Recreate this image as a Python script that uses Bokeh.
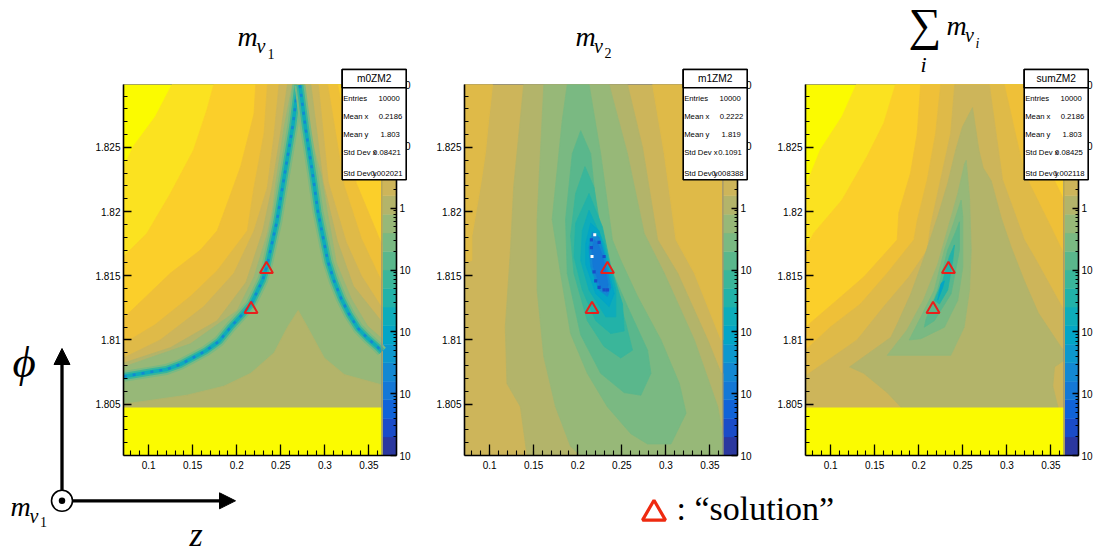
import math
from bokeh.plotting import figure
from bokeh.layouts import row, column
from bokeh.models import Range1d, LinearAxis, FixedTicker
from bokeh.embed import file_html
from bokeh.resources import INLINE
from bokeh.core.properties import value

# --- axes -----------------------------------------------------------------
Z_MIN, Z_MAX, PHI_MIN, PHI_MAX = 0.0715, 0.3647, 1.8010, 1.8299
Z_TICKS = [0.1, 0.15, 0.2, 0.25, 0.3, 0.35]
Z_LABELS = ["0.1", "0.15", "0.2", "0.25", "0.3", "0.35"]
Z_MINOR = [round(0.08 + 0.01 * i, 2) for i in range(29)]
PHI_TICKS = [1.805, 1.81, 1.815, 1.82, 1.825]
PHI_LABELS = ["1.805", "1.81", "1.815", "1.82", "1.825"]
PHI_MINOR = [round(1.802 + 0.001 * i, 3) for i in range(28)]
CB_DECADES = [-4, -3, -2, -1, 0, 1, 2]
CB_LABELS = ["10", "10", "10", "10", "1", "10", "10"]
EMPTY_BELOW = 1.80474

# contour palette, level 0 (lowest) to 19 (highest)
LEVELS = ["#2b389f", "#1a4cc8", "#1063d8", "#1478d6", "#1388d2", "#0c98cd", "#03a5c6",
          "#0eacba", "#22b2a8", "#3ab69a", "#5ab78c", "#7ab982", "#97b878", "#b3b46a",
          "#cdb55a", "#dfba48", "#efc038", "#fbcf2a", "#fbe220", "#fbfb00"]

SOLUTION_Z = [0.2162, 0.2337]
SOLUTION_PHI = [1.8124, 1.8155]

# --- m_nu1: (level, z, phi) regions; left edge first from top to left side, then right side
M0_BANDS = [
    (18, [.1266, .1076, .0829, .0715], [1.8299, 1.8274, 1.8251, 1.8235], [.3647], [1.8299]),
    (17, [.174, .166, .151, .1247, .098, .0715], [1.8299, 1.8279, 1.8248, 1.8214, 1.8183, 1.8165], [.3647], [1.8299]),
    (16, [.2215, .2196, .2044, .1854, .1778, .1588, .1247, .0715], [1.8299, 1.8276, 1.8235, 1.8199, 1.8185, 1.817, 1.8152, 1.8117],
         [.3145, .3357, .3642, .3647], [1.8299, 1.8222, 1.8175, 1.8173]),
    (15, [.2348, .231, .2196, .212, .1778, .1475, .1076, .0715], [1.8299, 1.8261, 1.8219, 1.8185, 1.8154, 1.8134, 1.8112, 1.8097],
         [.3031, .322, .3414, .3647], [1.8299, 1.822, 1.8179, 1.8145]),
    (14, [.248, .2424, .2348, .2196, .1968, .1626, .1133, .0715], [1.8299, 1.826, 1.8219, 1.8185, 1.8152, 1.8126, 1.81, 1.8086],
         [.2925, .3038, .3243, .3414, .3647], [1.8299, 1.8223, 1.8176, 1.815, 1.8125]),
    (13, [.2575, .25, .24, .2296, .2106, .1778, .1247, .0715], [1.8299, 1.8262, 1.8219, 1.8185, 1.8145, 1.8115, 1.8094, 1.8082],
         [.2841, .298, .3141, .3323, .3647], [1.8299, 1.8223, 1.8177, 1.8142, 1.8114]),
    (12, [.2633, .2538, .25, .2443, .2405, .2348, .2196, .2006, .1474, .0715],
         [1.8299, 1.8266, 1.8248, 1.8222, 1.8201, 1.8183, 1.8149, 1.8123, 1.8097, 1.8079],
         [.2765, .2822, .2959, .3027, .313, .33, .3483, .3647], [1.8299, 1.8263, 1.8228, 1.82, 1.816, 1.8132, 1.8111, 1.8101]),
]
M0_HILL_Z = [.0715, .1436, .1854, .2158, .2424, .2576, .2697, .2803, .2993, .3221, .3647]
M0_HILL_PHI = [1.805, 1.8057, 1.8064, 1.8074, 1.809, 1.811, 1.8123, 1.811, 1.8086, 1.8073, 1.8065]
M0_LEFT_Z = [.0718, .1019, .12, .1361, .1646, .18, .1931, .205, .2158, .2295, .2344, .2454, .2541, .2637, .2694]
M0_LEFT_PHI = [1.80716, 1.8075, 1.8077, 1.8081, 1.80914, 1.8099, 1.81101, 1.8119, 1.81273, 1.81467, 1.8158, 1.8192, 1.8228, 1.82674, 1.82986]
M0_RIGHT_Z = [.2716, .2784, .2864, .2921, .3035, .3105, .3187, .3275, .3377, .349, .3605, .3647]
M0_RIGHT_PHI = [1.82986, 1.82636, 1.8228, 1.82, 1.8161, 1.8146, 1.8132, 1.812, 1.8109, 1.8101, 1.8094, 1.8091]

# --- m_nu2: closed regions (level, z, phi)
M1_BASE = 14
M1_BANDS = [
    (15, [.1034, .0989, .0951, .0894, .0799, .0799, .0723, .0715, .0715],
         [1.8299, 1.8271, 1.8245, 1.8219, 1.8181, 1.8162, 1.816, 1.816, 1.8299]),
    (15, [.2849, .2982, .3115, .3324, .3627, .3647, .3647], [1.8299, 1.8245, 1.8178, 1.8152, 1.81, 1.81, 1.8299]),
    (13, [.1387, .1273, .1235, .1178, .1197, .1349, .1425, .3647, .3647, .3627, .3475, .3134, .2906, .2735, .2564],
         [1.8299, 1.8219, 1.8168, 1.811, 1.8066, 1.8048, 1.801, 1.801, 1.8074, 1.8074, 1.81, 1.8152, 1.8178, 1.825, 1.8299]),
    (12, [.1615, .1539, .1539, .1615, .1748, .1919, .2033, .3647, .3647, .3589, .3323, .2982, .2754, .2564, .2355],
         [1.8299, 1.8194, 1.8139, 1.8087, 1.8048, 1.8017, 1.801, 1.801, 1.8025, 1.8048, 1.81, 1.8152, 1.8183, 1.8245, 1.8299]),
    (11, [.1881, .1824, .171, .1805, .1919, .2109, .2336, .2602, .2792, .3058, .3229, .3153, .2944, .2678, .2488, .2393, .226, .2128],
         [1.8299, 1.8271, 1.8194, 1.8152, 1.8105, 1.8074, 1.8048, 1.8027, 1.8019, 1.8019, 1.8043, 1.8066, 1.81, 1.8134, 1.8162, 1.8178, 1.8245, 1.8299]),
    (10, [.2033, .1938, .1862, .1881, .2033, .226, .2526, .2716, .283, .2792, .2564, .2336, .2222, .2147],
         [1.8263, 1.8245, 1.8194, 1.8152, 1.8104, 1.8074, 1.8059, 1.8057, 1.8074, 1.8092, 1.8126, 1.8162, 1.8194, 1.8245]),
    (9, [.2082, .1976, .1919, .1957, .2109, .2298, .2488, .2621, .2545, .2374, .2241, .2184],
        [1.8235, 1.8214, 1.8181, 1.8152, 1.8115, 1.8095, 1.8086, 1.8092, 1.8113, 1.8154, 1.8194, 1.8219]),
    (8, [.2128, .1976, .1957, .2052, .2204, .2375, .2527, .2508, .2375, .228],
        [1.8214, 1.8191, 1.8165, 1.8139, 1.8115, 1.8105, 1.8107, 1.8128, 1.8157, 1.8188]),
    (7, [.2128, .2052, .2033, .2128, .2318, .2432, .2432, .2299], [1.8201, 1.8185, 1.8162, 1.8139, 1.8118, 1.8118, 1.8139, 1.8175]),
    (6, [.2147, .209, .209, .2204, .2356, .2413, .2318, .2242], [1.8191, 1.8175, 1.8159, 1.8136, 1.8126, 1.8136, 1.8165, 1.8185]),
    (4, [.2166, .2128, .2147, .2242, .2337, .2375, .2299, .2242], [1.8184, 1.8172, 1.8157, 1.8139, 1.8134, 1.8141, 1.8167, 1.818]),
    (3, [.2185, .216, .2175, .226, .233, .2345, .2285, .2225], [1.8178, 1.817, 1.8157, 1.8141, 1.8137, 1.8143, 1.8165, 1.8176]),
]
M1_RING_Z = [.2155, .2155, .2242, .2299, .2185, .2242, .2299, .2337, .2204]
M1_RING_PHI = [1.8178, 1.8172, 1.8176, 1.8165, 1.8153, 1.8141, 1.8139, 1.8139, 1.8146]
M1_EMPTY_Z = [.2193, .2162]
M1_EMPTY_PHI = [1.8182, 1.8165]

# --- sum: closed regions
S_BANDS = [
    (18, [.1292, .1129, .0882, .0715, .0715, .3647, .3647], [1.8299, 1.8274, 1.8248, 1.8219, 1.801, 1.801, 1.8299]),
    (17, [.1737, .1604, .1414, .1129, .0806, .0715, .0715, .3647, .3647], [1.8299, 1.8269, 1.8243, 1.8209, 1.8183, 1.817, 1.801, 1.801, 1.8299]),
    (16, [.2021, .1983, .1907, .1774, .1756, .1376, .1072, .0715, .0715, .3647, .3647, .35, .3198],
         [1.8299, 1.8261, 1.823, 1.8199, 1.8178, 1.8149, 1.8131, 1.811, 1.801, 1.801, 1.8209, 1.823, 1.8299]),
    (15, [.2249, .2192, .2097, .1983, .1945, .1642, .1338, .0996, .0715, .0715, .3647, .3647, .35, .3198, .297],
         [1.8299, 1.8261, 1.8225, 1.8193, 1.8178, 1.8152, 1.8128, 1.811, 1.8092, 1.801, 1.801, 1.8167, 1.8188, 1.823, 1.8299]),
    (14, [.2409, .2363, .2249, .2135, .2097, .1888, .1604, .13, .0715, .0715, .3647, .3647, .335, .3198, .295, .28],
         [1.8299, 1.8261, 1.8225, 1.8189, 1.817, 1.8149, 1.8126, 1.81, 1.8072, 1.801, 1.801, 1.8123, 1.816, 1.8178, 1.8225, 1.8299]),
    (13, [.261, .2496, .242, .2329, .2215, .2059, .1911, .176, .1683, .1216, .1376, .1642, .1794, .19, .358, .3578, .3521, .354, .3647, .3647,
          .3619, .3357, .3198, .305, .2936, .2822, .2731, .2682],
         [1.8281, 1.8266, 1.8248, 1.8222, 1.8196, 1.8164, 1.8136, 1.8113, 1.8102, 1.8079, 1.8074, 1.8059, 1.8048, 1.801, 1.801, 1.8048, 1.8064, 1.8079, 1.8084, 1.8092,
          1.8094, 1.8121, 1.8146, 1.8172, 1.8195, 1.8224, 1.8234, 1.8248]),
    (12, [.2538, .2576, .2595, .2576, .2515, .2363, .1642, .1869, .2059, .2215, .2348, .2443, .2519],
         [1.824, 1.8211, 1.817, 1.8139, 1.811, 1.8088, 1.8088, 1.8108, 1.8132, 1.8159, 1.8191, 1.8214, 1.8237]),
    (11, [.2481, .25, .25, .2443, .2291, .2025, .1892, .2025, .2177, .2291, .2405], [1.8209, 1.8196, 1.8157, 1.8131, 1.811, 1.8101, 1.81, 1.8118, 1.8139, 1.817, 1.8193]),
    (10, [.2462, .2462, .2367, .2177, .2063, .2082, .2215, .2329, .2424], [1.8192, 1.817, 1.8136, 1.8115, 1.811, 1.8116, 1.8139, 1.817, 1.8185]),
    (8, [.2405, .2386, .2329, .2234, .2177, .2272, .2348], [1.8174, 1.8162, 1.8139, 1.8128, 1.8131, 1.8146, 1.8165]),
    (6, [.2291, .2272, .2215, .2253], [1.8146, 1.8141, 1.8131, 1.8144]),
]

STATS_M0 = ["m0ZM2", "10000", "0.2186", "1.803", "0.08421", "0.002021"]
STATS_M1 = ["m1ZM2", "10000", "0.2222", "1.819", "0.1091", "0.008388"]
STATS_S = ["sumZM2", "10000", "0.2186", "1.803", "0.08425", "0.002118"]
STAT_NAMES = ["Entries", "Mean x", "Mean y", "Std Dev x", "Std Dev y"]

SANS, SERIF = "Liberation Sans", "Liberation Serif"
HEAT_W = 258.4   # px of heat map inside a 273 px frame
FRAME_W, FRAME_H = 273, 371
Z_END = Z_MIN + (Z_MAX - Z_MIN) * FRAME_W / HEAT_W
TOP, BOTTOM = 84, 97


def panel(left_border, right_border):
    p = figure(width=left_border + FRAME_W + right_border, height=TOP + FRAME_H + BOTTOM,
               x_range=Range1d(Z_MIN, Z_END), y_range=Range1d(PHI_MIN, PHI_MAX),
               output_backend="svg", toolbar_location=None,
               min_border_left=left_border, min_border_right=right_border,
               min_border_top=TOP, min_border_bottom=BOTTOM,
               x_axis_type=None, y_axis_type=None)
    p.background_fill_color = "white"
    p.border_fill_color = "white"
    p.outline_line_color = "#8a8a80"
    p.xgrid.visible = False
    p.ygrid.visible = False
    p.extra_y_ranges = {"cb": Range1d(CB_DECADES[0], CB_DECADES[-1])}
    common = dict(axis_line_color="black", axis_line_width=1.6, major_tick_line_color="black",
                  minor_tick_line_color="black", major_tick_line_width=1.3, minor_tick_line_width=1.1,
                  major_tick_out=0, minor_tick_out=0, major_label_text_font=SANS,
                  major_label_text_font_size="10px", major_label_text_color="black")
    xa = LinearAxis(ticker=FixedTicker(ticks=Z_TICKS, minor_ticks=Z_MINOR), major_tick_in=11, minor_tick_in=5,
                    major_label_standoff=5, major_label_overrides=dict(zip(Z_TICKS, Z_LABELS)), **common)
    ya = LinearAxis(ticker=FixedTicker(ticks=PHI_TICKS, minor_ticks=PHI_MINOR), major_tick_in=8, minor_tick_in=4,
                    major_label_standoff=3, major_label_overrides=dict(zip(PHI_TICKS, PHI_LABELS)), **common)
    cb_minor = [d + math.log10(m) for d in CB_DECADES[:-1] for m in range(2, 10)]
    ca = LinearAxis(y_range_name="cb", ticker=FixedTicker(ticks=CB_DECADES, minor_ticks=cb_minor),
                    major_tick_in=6, minor_tick_in=3, major_label_standoff=3,
                    major_label_overrides=dict(zip(CB_DECADES, CB_LABELS)), **common)
    p.add_layout(xa, "below")
    p.add_layout(ya, "left")
    p.add_layout(ca, "right")
    # colour bar, 20 levels over the 6 decades
    step = (CB_DECADES[-1] - CB_DECADES[0]) / len(LEVELS)
    p.quad(left=[Z_MAX] * 20, right=[Z_END] * 20,
           bottom=[CB_DECADES[0] + i * step for i in range(20)],
           top=[CB_DECADES[0] + (i + 1) * step for i in range(20)],
           fill_color=LEVELS, line_color=LEVELS, line_width=0.5, y_range_name="cb")
    return p


def fill(p, level, zs, phis):
    p.patch(zs, phis, fill_color=LEVELS[level], line_color=LEVELS[level], line_width=0.8)


def base(p, level):
    p.quad(left=[Z_MIN], right=[Z_MAX], bottom=[PHI_MIN], top=[PHI_MAX],
           fill_color=LEVELS[level], line_color=None)


def finish(p):
    p.line([Z_MAX, Z_MAX], [PHI_MIN, PHI_MAX], line_color="#8a8a80", line_width=1)
    p.scatter(SOLUTION_Z, SOLUTION_PHI, marker="triangle", size=13, fill_alpha=0,
              line_color="#e8201c", line_width=2)


def empty_strip(p):
    p.quad(left=[Z_MIN], right=[Z_MAX], bottom=[PHI_MIN], top=[EMPTY_BELOW],
           fill_color=LEVELS[19], line_color=None)


# ---------- panel 1
p1 = panel(123, 28)
base(p1, 19)
for lev, lz, lp, rz, rp in M0_BANDS:
    fill(p1, lev, lz[::-1] + rz + [Z_MAX, Z_MIN], lp[::-1] + rp + [PHI_MIN, PHI_MIN])
fill(p1, 13, M0_HILL_Z + [Z_MAX, Z_MIN], M0_HILL_PHI + [PHI_MIN, PHI_MIN])
for zs, ps in ((M0_LEFT_Z, M0_LEFT_PHI), (M0_RIGHT_Z, M0_RIGHT_PHI)):
    p1.line(zs, ps, line_color=LEVELS[11], line_width=11, line_join="round")
    p1.line(zs, ps, line_color=LEVELS[9], line_width=7, line_join="round")
    p1.line(zs, ps, line_color=LEVELS[7], line_width=3.5, line_join="round")
    p1.line(zs, ps, line_color=LEVELS[4], line_width=2.5, line_dash="3 6")
empty_strip(p1)
finish(p1)

# ---------- panel 2
p2 = panel(40, 33)
base(p2, M1_BASE)
for lev, zs, ps in M1_BANDS:
    fill(p2, lev, zs, ps)
p2.scatter(M1_RING_Z, M1_RING_PHI, marker="square", size=3.2, fill_color=LEVELS[1], line_color=None)
p2.scatter(M1_EMPTY_Z, M1_EMPTY_PHI, marker="square", size=3, fill_color="white", line_color=None)
finish(p2)

# ---------- panel 3
p3 = panel(35, 18)
base(p3, 19)
for lev, zs, ps in S_BANDS:
    fill(p3, lev, zs, ps)
empty_strip(p3)
finish(p3)

# ---------- overlay in page pixels: stat boxes, titles, sketch, legend
ov = figure(width=1096, height=TOP + FRAME_H + BOTTOM, x_range=Range1d(0, 1096), y_range=Range1d(TOP + FRAME_H + BOTTOM, 0),
            output_backend="svg", toolbar_location=None, min_border=0,
            x_axis_type=None, y_axis_type=None,
            styles={"position": "absolute", "left": "0px", "top": "0px"})
ov.background_fill_color = None
ov.border_fill_color = None
ov.outline_line_color = None
ov.xgrid.visible = False
ov.ygrid.visible = False


def text(px, py, s, size, font=SANS, style="normal", align="left"):
    # the svg text is drawn about 0.38 em below its nominal baseline
    ov.text([px], [py - 0.38 * size], text=[s], text_font=value(font), text_font_size=f"{size}px", text_font_style=style,
            text_align=align, text_baseline="alphabetic", text_color="black")


def stats(left, vals):
    ov.quad(left=[left], right=[left + 64], top=[69], bottom=[179.3], fill_color="white", line_color="black", line_width=1.6)
    ov.quad(left=[left], right=[left + 64], top=[69], bottom=[87.3], fill_color="white", line_color="black", line_width=1.6)
    text(left + 32, 82, vals[0], 10.2, align="center")
    for name, v, py, e in zip(STAT_NAMES, vals[1:], [101, 119, 137, 155, 175.5], [57.6, 60, 57.6, 58.6, 60.3]):
        text(left + 1, py, name, 7.7)
        text(left + e, py, v, 7.7, align="right")


stats(341.7, STATS_M0)
stats(682.7, STATS_M1)
stats(1023.7, STATS_S)

text(237, 47, "m", 28, SERIF, "italic")
text(256, 53, "ν", 20, SERIF, "italic")
text(267, 59, "1", 14, SERIF)
text(575, 47, "m", 28, SERIF, "italic")
text(593.5, 53, "ν", 20, SERIF, "italic")
text(604, 58, "2", 14, SERIF)
text(908, 41, "∑", 46, SERIF)
text(920, 72, "i", 22, SERIF, "italic")
text(946, 36, "m", 28, SERIF, "italic")
text(964.5, 42, "ν", 20, SERIF, "italic")
text(975, 48, "i", 14, SERIF, "italic")

ov.segment([61.5, 72], [490, 500.3], [61.5, 222], [360, 500.3], line_color="black", line_width=3.3)
ov.patch([53.5, 61.5, 69.5], [364, 348, 364], fill_color="black", line_color="black")
ov.patch([219, 235, 219], [492.3, 500.3, 508.3], fill_color="black", line_color="black")
ov.scatter([61.5], [500.3], marker="circle", size=21, fill_color="white", line_color="black", line_width=1.6)
ov.scatter([61.5], [500.3], marker="circle", size=6.5, fill_color="black", line_color=None)
text(12, 379, "ϕ", 45, SERIF, "italic")
text(10, 516.7, "m", 28, SERIF, "italic")
text(29, 522.7, "ν", 20, SERIF, "italic")
text(39.5, 527, "1", 14, SERIF)
text(189, 546.7, "z", 34, SERIF, "italic")

ov.scatter([653.5], [513], marker="triangle", size=23, fill_alpha=0, line_color="#ee2a10", line_width=3.2)
text(676, 521, ": “solution”", 34, SERIF)

layout = column(row(p1, p2, p3), ov)
open("out.html", "w").write(file_html(layout, INLINE))
